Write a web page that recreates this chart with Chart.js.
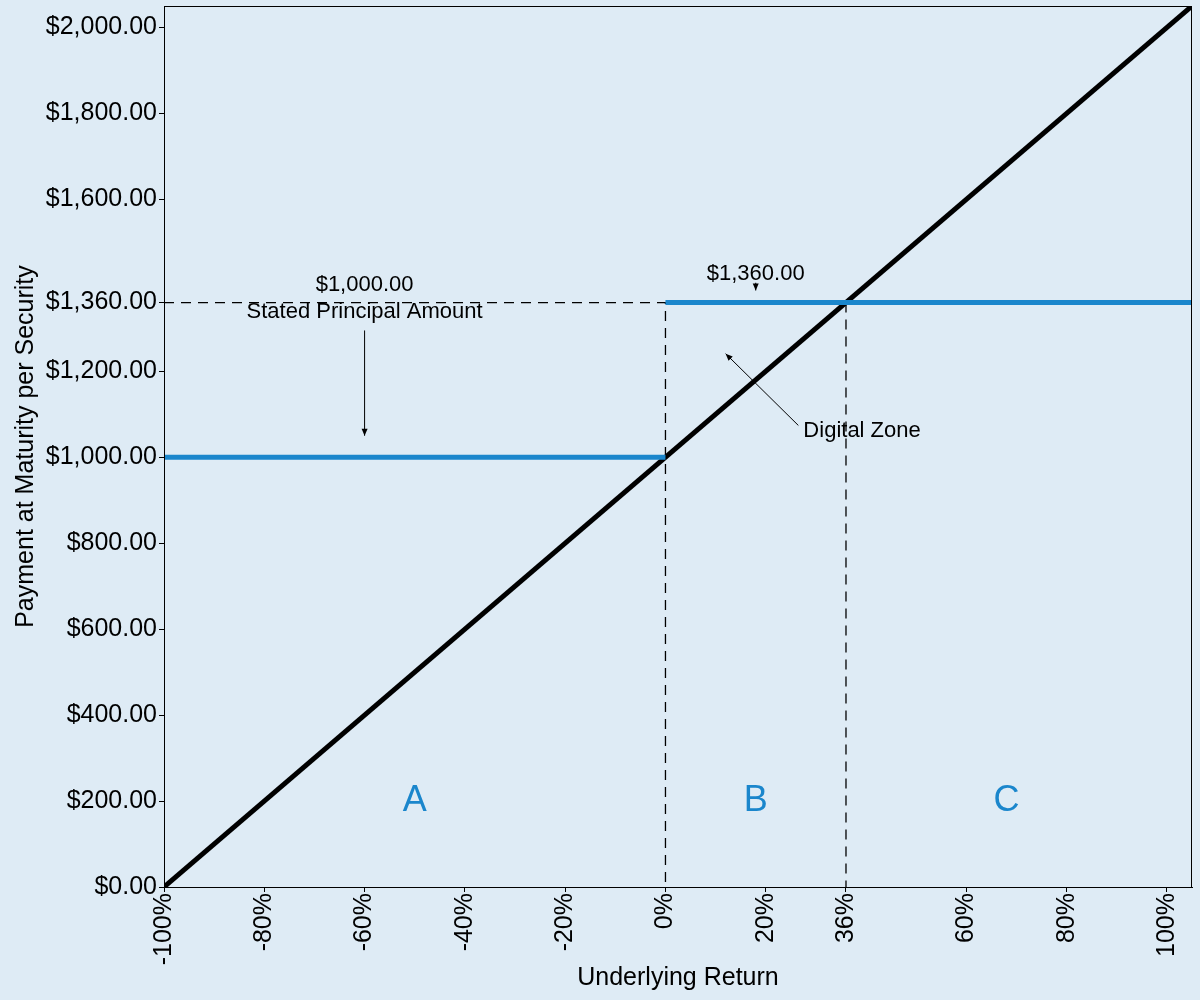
<!DOCTYPE html>
<html>
<head>
<meta charset="utf-8">
<script src="https://cdn.jsdelivr.net/npm/chart.js@4"></script>
<style>
  html, body { margin: 0; padding: 0; background: #deebf5; }
  #wrap { width: 1200px; height: 1000px; }
</style>
</head>
<body>
<div id="wrap"><canvas id="payoff-chart"></canvas></div>
<script>
// underlying return (fraction) -> payment at maturity ($)
const lineReturns = [-1, 1.05];
const linePayments = [0, 2050];

const principalReturns = [-1, 0];
const principalPayments = [1000, 1000];

const digitalReturns = [0, 1.05];
const digitalPayments = [1360, 1360];

// dashed guides
const guideReturns = [-1, 0, 0];
const guidePayments = [1360, 1360, 0];
const capReturns = [0.36, 0.36];
const capPayments = [1360, 0];

const xTicks = [-1, -0.8, -0.6, -0.4, -0.2, 0, 0.2, 0.36, 0.6, 0.8, 1];
const yTicks = [0, 200, 400, 600, 800, 1000, 1200, 1360, 1600, 1800, 2000];

const zoneLabels = ['A', 'B', 'C'];
const zoneReturns = [-0.5, 0.18, 0.68];
const zonePayment = 200;

// annotations (in data units)
const noteTexts = ['$1,000.00', 'Stated Principal Amount', '$1,360.00', 'Digital Zone'];
const noteX = [-0.6, -0.6, 0.18, 0.275];
const noteY = [1400, 1337, 1427, 1062];
const noteAlign = ['center', 'center', 'center', 'left'];
const arrowFrom = [[-0.6, 1295], [0.18, 1406], [0.265, 1074]];
const arrowTo = [[-0.6, 1050], [0.18, 1388], [0.12, 1241]];

const FONT = "'Liberation Sans', Arial, sans-serif";
const BLUE = '#1a86cc';

const pts = (xs, ys) => xs.map((x, i) => ({ x: x, y: ys[i] }));
const money = v => '$' + v.toLocaleString('en-US', { minimumFractionDigits: 2, maximumFractionDigits: 2 });

function arrow(ctx, x1, y1, x2, y2) {
  const a = Math.atan2(y2 - y1, x2 - x1);
  ctx.beginPath();
  ctx.moveTo(x1, y1);
  ctx.lineTo(x2, y2);
  ctx.stroke();
  ctx.beginPath();
  ctx.moveTo(x2, y2);
  ctx.lineTo(x2 - 7 * Math.cos(a) + 3 * Math.sin(a), y2 - 7 * Math.sin(a) - 3 * Math.cos(a));
  ctx.lineTo(x2 - 7 * Math.cos(a) - 3 * Math.sin(a), y2 - 7 * Math.sin(a) + 3 * Math.cos(a));
  ctx.closePath();
  ctx.fill();
}

const extras = {
  id: 'extras',
  afterDatasetsDraw(chart) {
    const { ctx, chartArea: ca, scales: { x, y } } = chart;
    ctx.save();
    // frame
    ctx.strokeStyle = '#000';
    ctx.lineWidth = 1;
    ctx.strokeRect(ca.left + 0.5, ca.top + 0.5, ca.right - ca.left - 1, ca.bottom - ca.top);

    // zone letters
    ctx.fillStyle = BLUE;
    ctx.font = '36px ' + FONT;
    ctx.textAlign = 'center';
    ctx.textBaseline = 'middle';
    zoneLabels.forEach((t, i) => ctx.fillText(t, x.getPixelForValue(zoneReturns[i]), y.getPixelForValue(zonePayment)));

    // notes
    ctx.fillStyle = '#000';
    ctx.font = '22px ' + FONT;
    noteTexts.forEach((t, i) => {
      ctx.textAlign = noteAlign[i];
      ctx.fillText(t, x.getPixelForValue(noteX[i]), y.getPixelForValue(noteY[i]));
    });

    ctx.lineWidth = 1;
    arrowFrom.forEach((p, i) => {
      arrow(ctx, x.getPixelForValue(p[0]), y.getPixelForValue(p[1]),
        x.getPixelForValue(arrowTo[i][0]), y.getPixelForValue(arrowTo[i][1]));
    });
    ctx.restore();
  }
};

const ctx = document.getElementById('payoff-chart').getContext('2d');
const chart = new Chart(ctx, {
  type: 'line',
  data: {
    datasets: [
      { data: pts(principalReturns, principalPayments), borderColor: BLUE, borderWidth: 5, order: 0 },
      { data: pts(digitalReturns, digitalPayments), borderColor: BLUE, borderWidth: 5, order: 0 },
      { data: pts(lineReturns, linePayments), borderColor: '#000', borderWidth: 5, order: 1 },
      { data: pts(guideReturns, guidePayments), borderColor: '#000', borderWidth: 1.3, borderDash: [10, 7], order: 2 },
      { data: pts(capReturns, capPayments), borderColor: '#000', borderWidth: 1.3, borderDash: [10, 7], order: 2 }
    ]
  },
  options: {
    responsive: true,
    maintainAspectRatio: false,
    animation: false,
    layout: { padding: { top: 6, right: 8, bottom: 0, left: 0 } },
    elements: { point: { radius: 0 }, line: { tension: 0, borderCapStyle: 'butt' } },
    plugins: { legend: { display: false }, tooltip: { enabled: false } },
    scales: {
      x: {
        type: 'linear',
        min: -1,
        max: 1.05,
        afterBuildTicks: s => { s.ticks = xTicks.map(v => ({ value: v })); },
        afterFit: s => { s.height = 113; s.paddingLeft = 0; s.paddingRight = 0; },
        ticks: {
          autoSkip: false,
          minRotation: 90,
          maxRotation: 90,
          padding: 1,
          color: '#000',
          font: { family: FONT, size: 25 },
          callback: v => Math.round(v * 100) + '%'
        },
        grid: { drawOnChartArea: false, tickLength: 5, tickColor: '#000' },
        border: { color: '#000' },
        title: { display: true, text: 'Underlying Return', color: '#000', font: { family: FONT, size: 25 }, padding: { top: 0, bottom: 7 } }
      },
      y: {
        type: 'linear',
        min: 0,
        max: 2050,
        afterBuildTicks: s => { s.ticks = yTicks.map(v => ({ value: v })); },
        afterFit: s => { s.width = 164; s.paddingTop = 0; s.paddingBottom = 0; },
        ticks: {
          autoSkip: false,
          padding: 2,
          color: '#000',
          font: { family: FONT, size: 25 },
          callback: v => money(v)
        },
        grid: { drawOnChartArea: false, tickLength: 5, tickColor: '#000' },
        border: { color: '#000' },
        title: { display: true, text: 'Payment at Maturity per Security', color: '#000', font: { family: FONT, size: 25 }, padding: { top: 11, bottom: 0 } }
      }
    }
  },
  plugins: [extras]
});
</script>
</body>
</html>
